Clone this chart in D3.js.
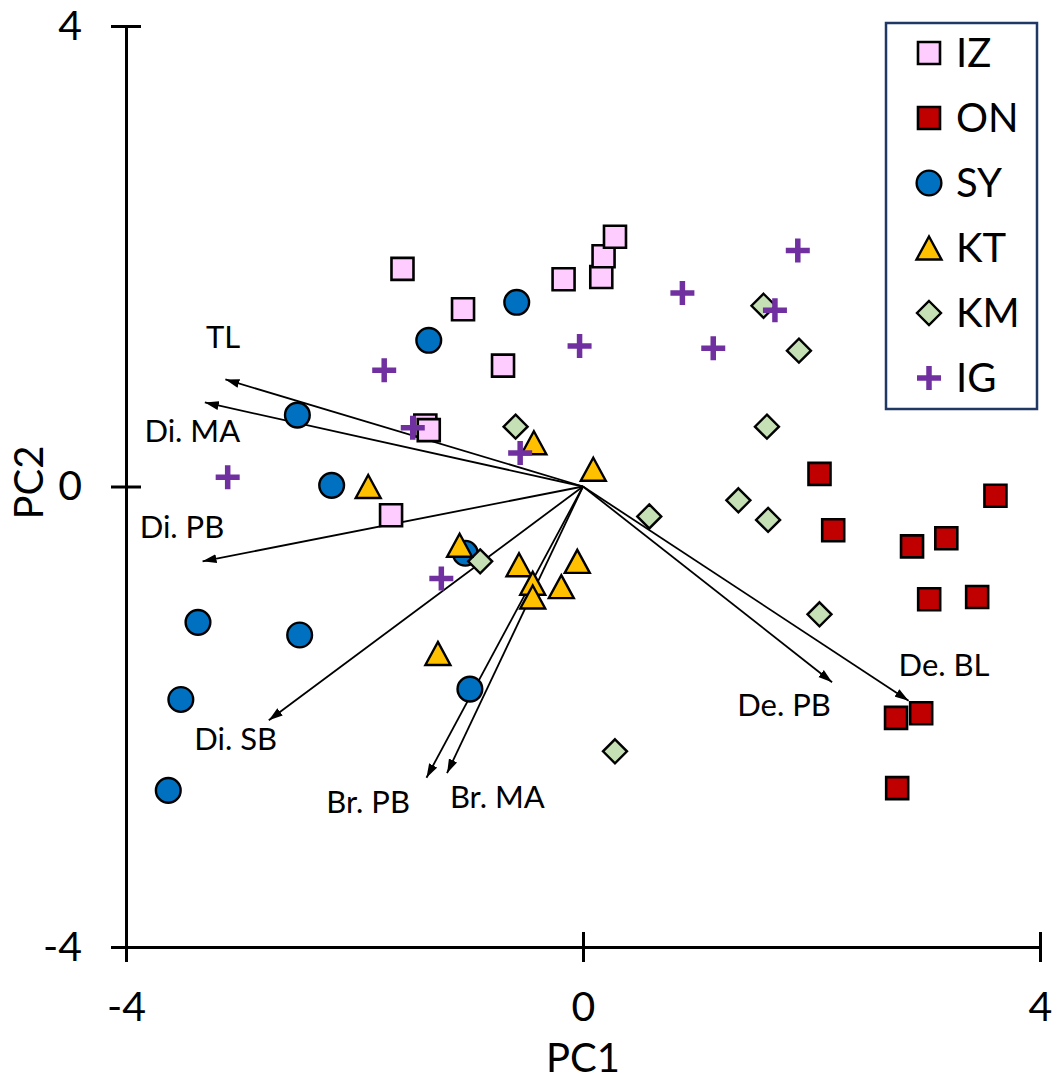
<!DOCTYPE html>
<html>
<head>
<meta charset="utf-8">
<script src="https://cdn.jsdelivr.net/npm/d3@7"></script>
<style>
  body { margin: 0; background: #fff; }
  text { font-family: Lato, "Open Sans", sans-serif; fill: #000; }
</style>
</head>
<body>
<svg id="chart"></svg>
<script>
// groups (legend order)
const groups = ["IZ", "ON", "SY", "KT", "KM", "IG"];
const colors = ["#FFCCFF", "#C00000", "#0070C0", "#FFC000", "#C5E0B4", "#7030A0"];
const shapes = ["square", "square", "circle", "triangle", "diamond", "plus"];

// PC1 / PC2 scores
const IZ = [[-1.58, 1.89], [-1.05, 1.54], [-0.70, 1.05], [-0.17, 1.80], [0.16, 1.82],
            [0.18, 2.00], [0.28, 2.17], [-1.38, 0.53], [-1.35, 0.49], [-1.68, -0.25]];
const ON = [[2.07, 0.11], [2.19, -0.38], [3.61, -0.08], [2.88, -0.52], [3.18, -0.45],
            [3.03, -0.98], [3.45, -0.96], [2.74, -2.01], [2.96, -1.97], [2.75, -2.62]];
const SY = [[-0.58, 1.60], [-1.35, 1.27], [-2.50, 0.62], [-2.20, 0.01], [-1.03, -0.58],
            [-3.37, -1.18], [-2.48, -1.29], [-3.52, -1.85], [-0.99, -1.76], [-3.63, -2.64]];
const KT = [[-0.43, 0.38], [0.09, 0.15], [-1.88, 0.00], [-1.08, -0.51], [-0.56, -0.68],
            [-0.05, -0.65], [-0.44, -0.84], [-0.19, -0.87], [-0.44, -0.96], [-1.27, -1.45]];
const KM = [[1.58, 1.57], [1.89, 1.18], [-0.59, 0.52], [1.61, 0.52], [1.36, -0.12],
            [1.62, -0.29], [0.58, -0.26], [-0.90, -0.65], [2.07, -1.11], [0.28, -2.30]];
const IG = [[1.88, 2.05], [0.87, 1.68], [1.68, 1.53], [-0.03, 1.22], [1.14, 1.20],
            [-1.74, 1.01], [-1.49, 0.51], [-0.55, 0.29], [-3.11, 0.08], [-1.24, -0.80]];

// loading vectors
const loadNames = ["TL", "Di. MA", "Di. PB", "Di. SB", "Br. PB", "Br. MA", "De. PB", "De. BL"];
const loadX = [-3.13, -3.31, -3.33, -2.75, -1.37, -1.19, 2.18, 2.85];
const loadY = [0.93, 0.73, -0.65, -2.03, -2.53, -2.49, -1.70, -1.86];
// label anchors (centre x, baseline y) in data units
const labelX = [-3.15, -3.42, -3.51, -3.04, -1.88, -0.75, 1.76, 3.16];
const labelY = [1.20, 0.39, -0.45, -2.29, -2.84, -2.79, -1.99, -1.65];

const ticks = [-4, 0, 4];

const W = 1059, H = 1084;
const svg = d3.select("#chart").attr("width", W).attr("height", H);

const x = d3.scaleLinear().domain([-4, 4]).range([126, 1040]);
const y = d3.scaleLinear().domain([-4, 4]).range([947, 26]);

// arrowhead
svg.append("defs").append("marker")
  .attr("id", "head")
  .attr("viewBox", "-14 -5 14 10")
  .attr("refX", 0).attr("refY", 0)
  .attr("markerWidth", 14).attr("markerHeight", 10)
  .attr("markerUnits", "userSpaceOnUse")
  .attr("orient", "auto")
  .append("path").attr("d", "M-14,-4.5L0,0L-14,4.5Z").attr("fill", "#000");

// axes
const fmt = d => String(d);
const xAxis = svg.append("g")
  .attr("transform", "translate(0," + y(-4) + ")")
  .call(d3.axisBottom(x).tickValues(ticks).tickFormat(fmt)
    .tickSizeInner(15).tickSizeOuter(0).tickPadding(30));
xAxis.selectAll(".tick line").attr("y1", -15);

const yAxis = svg.append("g")
  .attr("transform", "translate(" + x(-4) + ",0)")
  .call(d3.axisLeft(y).tickValues(ticks).tickFormat(fmt)
    .tickSizeInner(15).tickSizeOuter(0).tickPadding(29));
yAxis.selectAll(".tick line").attr("x1", 15);

svg.selectAll(".domain, .tick line").attr("stroke", "#000").attr("stroke-width", 3);
svg.selectAll(".tick text").style("font-family", "Lato").style("font-size", "41px").attr("fill", "#000");

svg.append("text").attr("x", x(0)).attr("y", 1072)
  .attr("text-anchor", "middle").style("font-size", "40px").text("PC1");
svg.append("text").attr("transform", "translate(43," + (y(0) - 4) + ") rotate(-90)")
  .attr("text-anchor", "middle").style("font-size", "40px").text("PC2");

// loadings
const loads = loadNames.map((n, i) => ({ n, x: loadX[i], y: loadY[i], lx: labelX[i], ly: labelY[i] }));
svg.append("g").selectAll("line").data(loads).enter().append("line")
  .attr("x1", x(0)).attr("y1", y(0))
  .attr("x2", d => x(d.x)).attr("y2", d => y(d.y))
  .attr("stroke", "#000").attr("stroke-width", 1.8)
  .attr("marker-end", "url(#head)");
svg.append("g").selectAll("text").data(loads).enter().append("text")
  .attr("x", d => x(d.lx)).attr("y", d => y(d.ly))
  .attr("text-anchor", "middle").style("font-size", "31px")
  .text(d => d.n);

// marker drawing
function drawMarker(sel, shape, color) {
  if (shape === "square") {
    sel.append("path").attr("d", d3.symbol(d3.symbolSquare, 484)())
      .attr("fill", color).attr("stroke", "#000").attr("stroke-width", 2.6);
  } else if (shape === "circle") {
    sel.append("path").attr("d", d3.symbol(d3.symbolCircle, 480)())
      .attr("fill", color).attr("stroke", "#000").attr("stroke-width", 2.4);
  } else if (shape === "triangle") {
    sel.append("path").attr("d", "M0,-11.5L12.5,11.5L-12.5,11.5Z")
      .attr("fill", color).attr("stroke", "#000").attr("stroke-width", 2.4)
      .attr("stroke-linejoin", "miter");
  } else if (shape === "diamond") {
    sel.append("path").attr("d", "M0,-12L12,0L0,12L-12,0Z")
      .attr("fill", color).attr("stroke", "#000").attr("stroke-width", 2.4);
  } else if (shape === "plus") {
    sel.append("path").attr("d", "M-12,0H12M0,-12V12")
      .attr("stroke", color).attr("stroke-width", 5.5);
  }
}

const seriesData = { IZ, ON, SY, KT, KM, IG };
// draw order so that later series sit on top
const drawOrder = ["IZ", "ON", "SY", "KM", "KT", "IG"];
drawOrder.forEach(g => {
  const i = groups.indexOf(g);
  svg.append("g").selectAll("g").data(seriesData[g]).enter().append("g")
    .attr("transform", d => "translate(" + x(d[0]) + "," + y(d[1]) + ")")
    .each(function () { drawMarker(d3.select(this), shapes[i], colors[i]); });
});

// legend
const legend = svg.append("g");
legend.append("rect").attr("x", 886).attr("y", 23).attr("width", 151).attr("height", 386)
  .attr("fill", "#fff").attr("stroke", "#1F3864").attr("stroke-width", 2.5);
const items = legend.selectAll("g.item").data(groups).enter().append("g")
  .attr("class", "item")
  .attr("transform", (d, i) => "translate(929," + (53 + i * 65) + ")");
items.each(function (d, i) { drawMarker(d3.select(this), shapes[i], colors[i]); });
items.append("text").attr("x", 27).attr("dy", "0.36em")
  .style("font-size", "40px").text(d => d);
</script>
</body>
</html>
